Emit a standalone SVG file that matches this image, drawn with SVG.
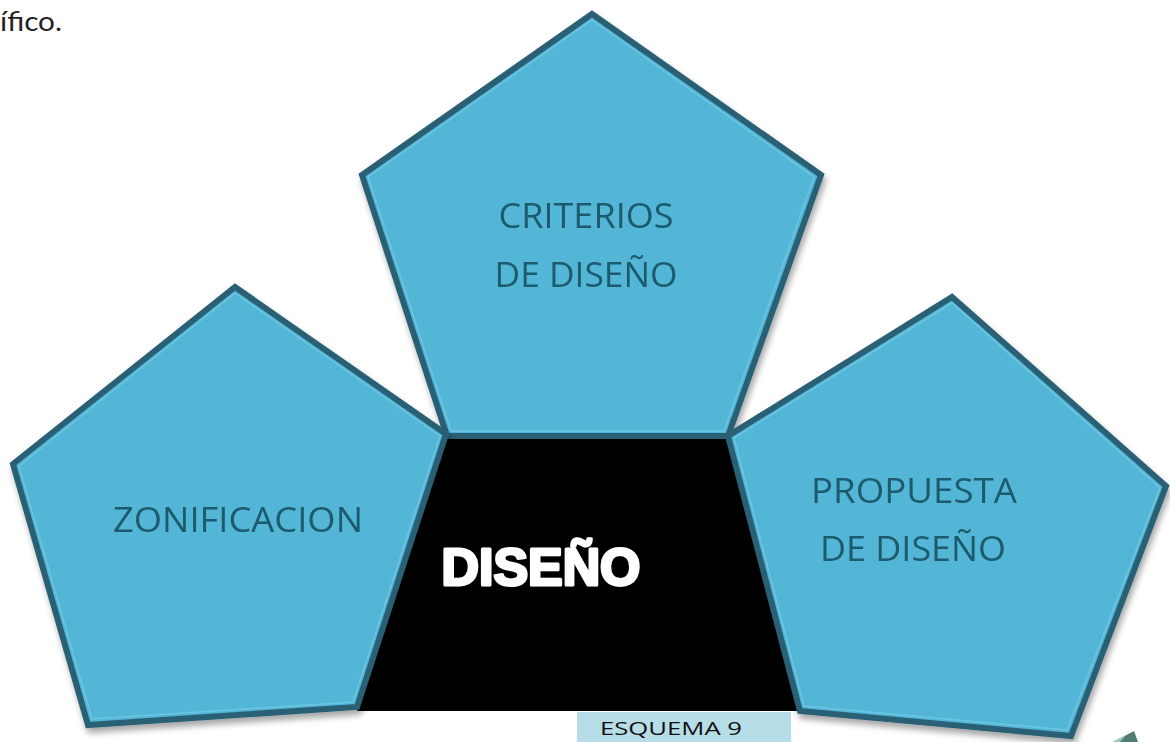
<svg xmlns="http://www.w3.org/2000/svg" width="1170" height="742" viewBox="0 0 1170 742">
  <defs>
    <filter id="shadow" x="-10%" y="-10%" width="120%" height="125%">
      <feGaussianBlur in="SourceAlpha" stdDeviation="3"/>
      <feOffset dx="2" dy="5" result="b"/>
      <feComponentTransfer><feFuncA type="linear" slope="0.35"/></feComponentTransfer>
      <feMerge><feMergeNode/><feMergeNode in="SourceGraphic"/></feMerge>
    </filter>
  </defs>
  <style>
    .pent { fill: #52b6d6; stroke: #2b6174; stroke-width: 6; stroke-linejoin: miter; }
    .hl { fill: none; stroke: #74c9e3; stroke-width: 1.5; stroke-linejoin: miter; opacity: 0.8; }
    .lbl { font-family: "Open Sans", "Noto Sans", sans-serif; font-size: 34px; fill: #1f5a6e; text-anchor: middle; }
  </style>
  <rect width="1170" height="742" fill="#ffffff"/>
  <text x="0" y="31" font-family="Lato, 'DejaVu Sans', sans-serif" font-size="26" fill="#222222" textLength="62" lengthAdjust="spacingAndGlyphs">ífico.</text>

  <g id="diseno">
    <polygon points="447,436 728,436 800,711 357,711" fill="#000000"/>
    <text x="541" y="585" font-family="'Liberation Sans', Arial, sans-serif" font-weight="bold" font-size="51" fill="#ffffff" stroke="#ffffff" stroke-width="3" stroke-linejoin="round" text-anchor="middle" textLength="199" lengthAdjust="spacingAndGlyphs">DISEÑO</text>
  </g>

  <g id="criterios" filter="url(#shadow)">
    <polygon class="pent" points="592,14 821,175 728,436 447,436 362,175"/>
    <polygon class="hl" points="592,20 814,177 724,431 451,431 368,177"/>
    <text class="lbl" x="586" y="228" textLength="175" lengthAdjust="spacingAndGlyphs">CRITERIOS</text>
    <text class="lbl" x="586" y="287" textLength="183" lengthAdjust="spacingAndGlyphs">DE DISEÑO</text>
  </g>

  <g id="zonificacion" filter="url(#shadow)">
    <polygon class="pent" points="235,287 446,434 357,707 88,725 13,464"/>
    <polygon class="hl" points="235,293 440,436 353,702 92,719 19,466"/>
    <text class="lbl" x="238" y="532" textLength="250" lengthAdjust="spacingAndGlyphs">ZONIFICACION</text>
  </g>

  <g id="propuesta" filter="url(#shadow)">
    <polygon class="pent" points="952,297 1166,486 1071,736 800,711 728,436"/>
    <polygon class="hl" points="952,303 1160,488 1067,730 804,706 734,438"/>
    <text class="lbl" x="914" y="503" textLength="206" lengthAdjust="spacingAndGlyphs">PROPUESTA</text>
    <text class="lbl" x="913" y="561" textLength="186" lengthAdjust="spacingAndGlyphs">DE DISEÑO</text>
  </g>

  <g id="esquema">
    <rect x="577" y="712" width="214" height="30" fill="#b7dde8"/>
    <text x="671" y="735" font-family="'Open Sans', 'Noto Sans', sans-serif" font-size="19" fill="#111111" text-anchor="middle" textLength="142" lengthAdjust="spacingAndGlyphs">ESQUEMA 9</text>
  </g>

  <g id="corner-arrow">
    <polygon points="1113,742 1134,731 1138,742" fill="#4f7f74"/>
    <polygon points="1113,742 1126,735 1120,742" fill="#9cc8b2"/>
  </g>

  <g id="connectors"></g>
</svg>
